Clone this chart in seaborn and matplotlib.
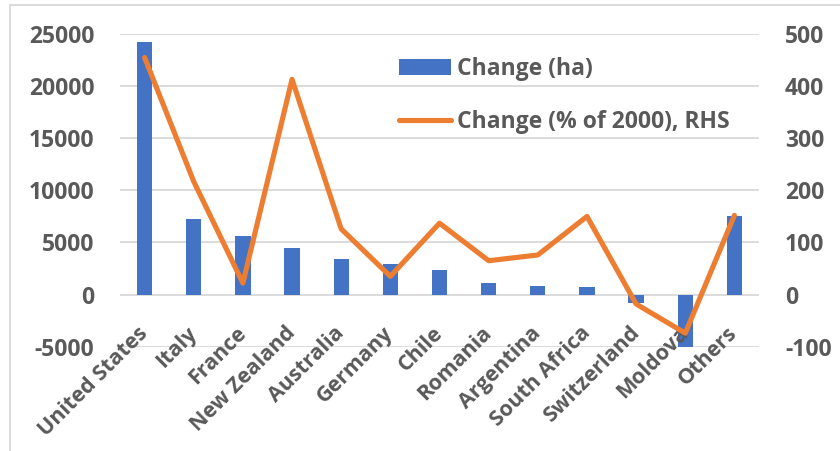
import numpy as np
import pandas as pd
import matplotlib
matplotlib.use("Agg")
import matplotlib.pyplot as plt
from matplotlib.patches import Rectangle
import seaborn as sns

# Vineyard area change by country
countries = ["United States", "Italy", "France", "New Zealand", "Australia",
             "Germany", "Chile", "Romania", "Argentina", "South Africa",
             "Switzerland", "Moldova", "Others"]
change_ha = [24200, 7250, 5600, 4500, 3400, 2900, 2350, 1100, 800, 740,
             -830, -5200, 7500]
change_pct = [455, 217, 22, 413, 126, 35, 137, 65, 76, 150, -18, -74, 152]
left_ticks = [-5000, 0, 5000, 10000, 15000, 20000, 25000]
right_ticks = [-100, 0, 100, 200, 300, 400, 500]

BLUE = "#4472C4"
ORANGE = "#ED7D31"
TEXT = "#595959"
GRID = "#D9D9D9"

sns.set_style("white")
plt.rcParams["font.family"] = ["Open Sans", "DejaVu Sans"]
plt.rcParams["font.weight"] = "bold"
plt.rcParams["axes.unicode_minus"] = False

W, H = 840, 451
fig = plt.figure(figsize=(W / 100, H / 100), dpi=100)

# chart frame
fig.patches.append(Rectangle((10 / W, -0.2), 1.2, 1.2 - 5 / H,
                             transform=fig.transFigure, fill=False,
                             edgecolor=GRID, lw=1.3, zorder=0))

ax = fig.add_axes([120 / W, 1 - 346.7 / H, 639 / W, 312.7 / H])

df = pd.DataFrame({"country": countries, "ha": change_ha, "pct": change_pct})
sns.barplot(data=df, x="country", y="ha", color=BLUE, saturation=1,
            width=0.31, linewidth=0, ax=ax, label="Change (ha)", zorder=1)
ax.set_xlim(-0.5, len(countries) - 0.5)
ax.set_ylim(-5000, 25000)
ax.set_yticks(left_ticks)
ax.grid(False)
ax.set_axisbelow(False)
# horizontal gridlines sit under the bars; tick labels stay above them
for t in left_ticks:
    ax.axhline(t, color=GRID, lw=1.3, zorder=0.3)

ax2 = ax.twinx()
sns.lineplot(x=np.arange(len(countries)), y=change_pct, ax=ax2, color=ORANGE,
             lw=3.7, sort=False, label="Change (% of 2000), RHS")
for ln in ax2.lines:
    ln.set_solid_capstyle("round")
    ln.set_solid_joinstyle("round")
ax2.set_ylim(-100, 500)
ax2.set_yticks(right_ticks)
ax2.grid(False)

for a in (ax, ax2):
    a.set_xlabel("")
    a.set_ylabel("")
    for s in a.spines.values():
        s.set_visible(False)

# category labels hang just below the zero line
ax.spines["bottom"].set_position(("data", 0))
ax.tick_params(axis="x", length=0, pad=25.5, labelsize=15.5, labelcolor=TEXT)
plt.setp(ax.get_xticklabels(), rotation=45, ha="right", va="center",
         rotation_mode="anchor")
ax.tick_params(axis="y", length=0, pad=18.5, labelsize=16.5, labelcolor=TEXT)
ax2.tick_params(axis="y", length=0, pad=18.7, labelsize=16.5, labelcolor=TEXT)

h1, l1 = ax.get_legend_handles_labels()
h2, l2 = ax2.get_legend_handles_labels()
if ax.get_legend() is not None:
    ax.get_legend().remove()
if ax2.get_legend() is not None:
    ax2.get_legend().remove()
leg = fig.legend(h1 + h2, l1 + l2, loc="upper left",
                 bbox_to_anchor=(399 / W, 1 - 57 / H), frameon=False,
                 borderpad=0, borderaxespad=0, handlelength=2.27,
                 handletextpad=0.25, labelspacing=1.25, fontsize=16.5)
for t in leg.get_texts():
    t.set_color(TEXT)

fig.savefig("out.png", dpi=100)
